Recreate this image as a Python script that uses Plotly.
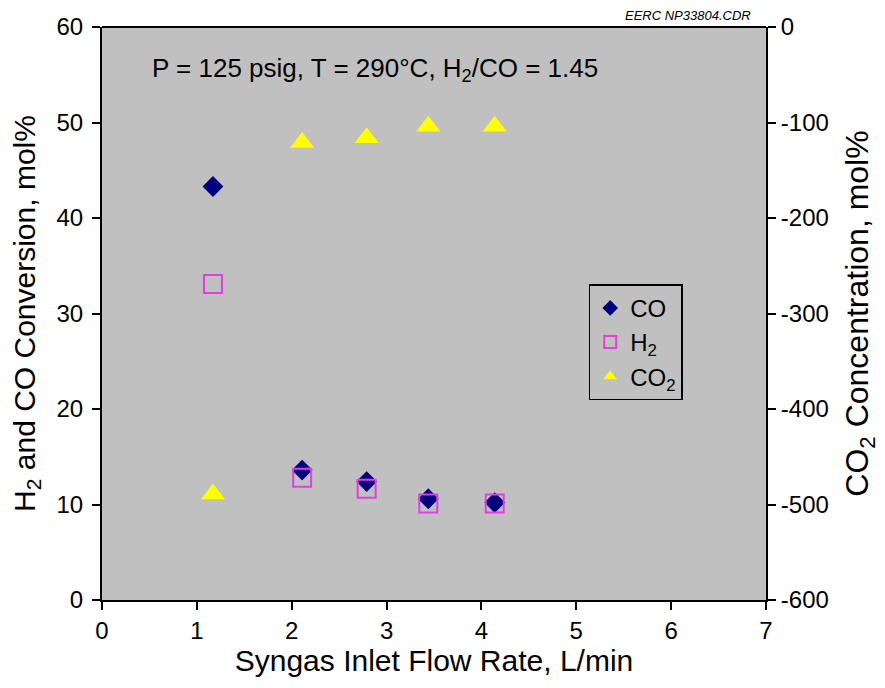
import plotly.graph_objects as go

flow = [1.17, 2.11, 2.79, 3.44, 4.14]
co_conv = [43.3, 13.6, 12.4, 10.6, 10.2]
h2_conv = [33.1, 12.8, 11.65, 10.1, 10.1]
co2_conc = [-489, -121, -116, -104, -104]

x_ticks = [0, 1, 2, 3, 4, 5, 6, 7]
left_ticks = [0, 10, 20, 30, 40, 50, 60]
right_ticks = [0, -100, -200, -300, -400, -500, -600]
right_tick_text = ["0", "-100", "-200", "-300", "-400", "-500", "-600"]

FONT = "Liberation Sans, Arial, sans-serif"

fig = go.Figure()
fig.add_trace(go.Scatter(x=flow, y=co_conv, mode="markers", name="CO",
                         marker=dict(symbol="diamond", size=16, color="#000080"),
                         yaxis="y"))
fig.add_trace(go.Scatter(x=flow, y=h2_conv, mode="markers", name="H<sub>2</sub>",
                         marker=dict(symbol="square-open", size=18, color="#E040E0",
                                     line=dict(width=2, color="#E040E0")),
                         yaxis="y"))
fig.add_trace(go.Scatter(x=flow, y=co2_conc, mode="markers", name="CO<sub>2</sub>",
                         marker=dict(symbol="triangle-up", size=21, color="#FFFF00"),
                         yaxis="y2"))

axis_common = dict(showline=True, linecolor="black", linewidth=2, ticks="outside",
                   ticklen=8, tickwidth=1.5, tickcolor="black", showgrid=False,
                   zeroline=False, tickfont=dict(size=24, color="black", family=FONT))

fig.update_layout(
    width=885, height=688,
    margin=dict(l=102, r=119, t=27, b=88),
    paper_bgcolor="white", plot_bgcolor="#C0C0C0",
    font=dict(family=FONT, color="black"),
    xaxis=dict(range=[0, 7], tickvals=x_ticks,
               title=dict(text="Syngas Inlet Flow Rate, L/min", font=dict(size=30), standoff=4),
               **axis_common),
    yaxis=dict(range=[0, 60], tickvals=left_ticks, ticklabelstandoff=4,
               title=dict(text="H<sub>2</sub> and CO Conversion, mol%", font=dict(size=30), standoff=12),
               **axis_common),
    yaxis2=dict(range=[-600, 0], tickvals=right_ticks, ticktext=right_tick_text,
                overlaying="y", side="right",
                title=dict(text="CO<sub>2</sub> Concentration, mol%", font=dict(size=32), standoff=18),
                **axis_common),
    legend=dict(x=0.733, y=0.551, xanchor="left", yanchor="top",
                bgcolor="rgba(0,0,0,0)", bordercolor="black", borderwidth=1.5,
                font=dict(size=24, color="black", family=FONT),
                itemsizing="constant", itemwidth=30),
    showlegend=True,
)

# top border of the plot area
fig.add_shape(type="line", xref="paper", yref="paper", x0=0, x1=1, y0=1, y1=1,
              line=dict(color="black", width=2))

fig.add_annotation(text="P = 125 psig, T = 290°C, H<sub>2</sub>/CO = 1.45",
                   xref="paper", yref="paper", x=0.072, y=0.925, xanchor="left", yanchor="middle",
                   showarrow=False, font=dict(size=26, color="black", family=FONT))
fig.add_annotation(text="<i>EERC NP33804.CDR</i>",
                   xref="paper", yref="paper", x=0.98, y=1.0, xanchor="right", yanchor="bottom",
                   yshift=2, showarrow=False, font=dict(size=13, color="black", family=FONT))

fig.write_html("out.html")
